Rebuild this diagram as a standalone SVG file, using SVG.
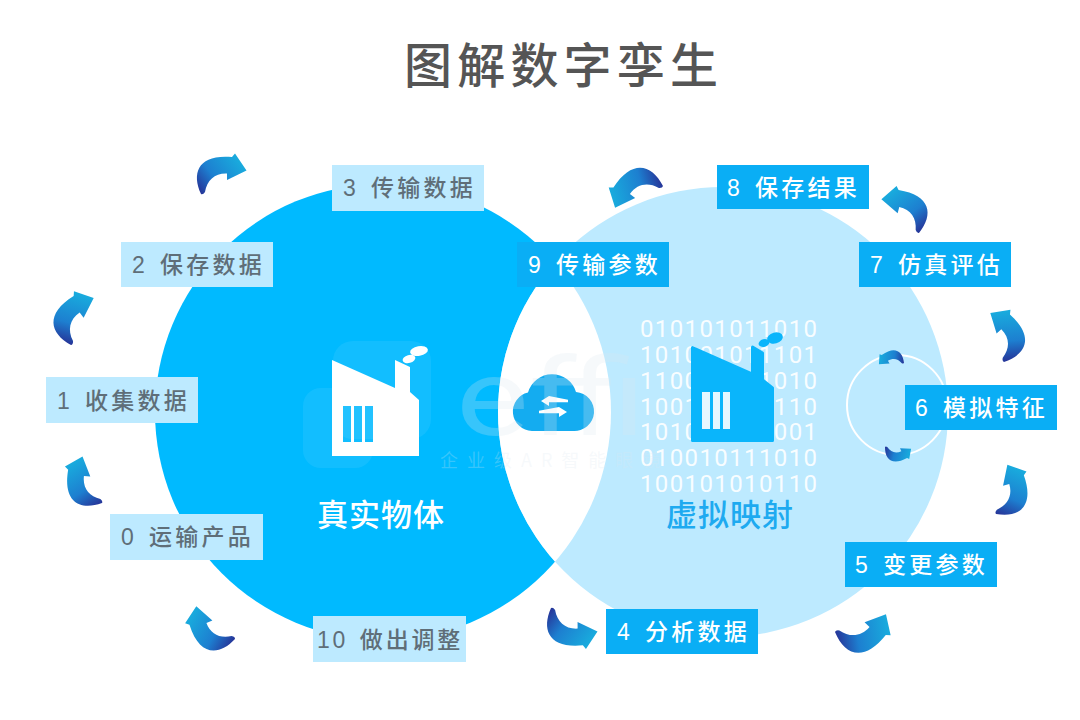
<svg xmlns="http://www.w3.org/2000/svg" width="1080" height="720" viewBox="0 0 1080 720">
<style>
.lt{fill:#bdeaff}.dk{fill:#0aaef5}
.lb{font-family:"Liberation Sans","Noto Sans CJK SC",sans-serif;font-size:23px;font-weight:500;letter-spacing:3.200px;word-spacing:2.500px}
.lt+.lb{fill:#5f6e78}.dk+.lb{fill:#fff}
.bin{font-family:Roboto,"Liberation Sans",sans-serif;font-weight:400;font-size:24px;fill:#fff;fill-opacity:.92}
.cap{font-family:"Noto Sans CJK SC",sans-serif;font-size:31px;font-weight:500;letter-spacing:1px}
.wm{fill:#dce8f0;fill-opacity:.25}
.wr{fill:#fff;fill-opacity:.07}
</style>
<defs>
<linearGradient id="ag" gradientUnits="userSpaceOnUse" x1="40" y1="-30" x2="1" y2="0">
<stop offset="0" stop-color="#19aadd"/><stop offset=".6" stop-color="#1d7fd0"/><stop offset="1" stop-color="#26379a"/>
</linearGradient>
<path id="arrow" fill="url(#ag)" d="M0 0C-10-22-2-40 31-37L34-40.500 45.500-23.500 26-14 26-20.500C14-21 6-14 4-2Q2 1 0 0Z"/>
<clipPath id="lc"><circle cx="383" cy="412" r="228"/></clipPath>
</defs>
<rect width="1080" height="720" fill="#fff"/>
<text x="404" y="83" font-family="'Noto Sans CJK SC',sans-serif" font-size="48" font-weight="500" letter-spacing="5.200" fill="#555">图解数字孪生</text>

<g id="circles">
<circle cx="383" cy="412" r="228" fill="#00baff"/>
<circle cx="723" cy="412" r="225" fill="#bdeaff"/>
<circle cx="723" cy="412" r="225" fill="#fff" clip-path="url(#lc)"/>
</g>

<g id="binary" class="bin">
<text x="640" y="337" textLength="177">010101011010</text>
<text x="640" y="363" textLength="177">101001011101</text>
<text x="640" y="389" textLength="177">110010101010</text>
<text x="640" y="415" textLength="177">100101010110</text>
<text x="640" y="440" textLength="177">101001010001</text>
<text x="640" y="466" textLength="177">010010111010</text>
<text x="640" y="492" textLength="177">100101010110</text>
</g>

<g id="real-object">
<path fill="#fff" d="M332 360L395 388V360L410 367V392L419 400V456H332Z"/>
<path fill="#00baff" d="M343 406h8v36h-8zM354 406h8v36h-8zM365 406h8v36h-8z"/>
<ellipse cx="419" cy="351" rx="9" ry="4.800" fill="#fff" transform="rotate(-10 419 351)"/>
<ellipse cx="409" cy="359" rx="6.500" ry="4" fill="#fff" transform="rotate(-15 409 359)"/>
<text class="cap" x="317" y="526" fill="#fff">真实物体</text>
</g>

<g id="virtual-map">
<path fill="#0ab5fb" stroke="#0ab5fb" stroke-width="3" stroke-linejoin="round" d="M692.500 347.500L752.500 374V347L762.500 353V380L772.500 388V440.500H692.500Z"/>
<path fill="#e6f7ff" d="M702 392h8v37h-8zM713 392h7v37h-7zM723 392h7v37h-7z"/>
<ellipse cx="775" cy="338" rx="8" ry="5.500" fill="#0ab5fb" transform="rotate(-15 775 338)"/>
<ellipse cx="764" cy="343" rx="5.500" ry="3.800" fill="#0ab5fb" transform="rotate(-15 764 343)"/>
<text class="cap" x="666" y="526" fill="#1eaaf0">虚拟映射</text>
</g>

<g id="cloud">
<path fill="#14acf0" d="M532 431A19.500 19.500 0 0 1 528 392.500A25 25 0 0 1 576 392A19.500 19.500 0 0 1 573 431Z"/>
<path fill="#fff" d="M568 399.800V402.200H549V406L541 401 549 396ZM539 410.800V413.200H559V417L567 412 559 407Z"/>
</g>

<g id="watermark">
<rect class="wr" x="333" y="341" width="98" height="98" rx="20"/>
<rect class="wr" x="303" y="388" width="70" height="80" rx="18"/>
<text class="wm" x="456" y="435" font-family="Roboto,sans-serif" font-size="108" textLength="190" lengthAdjust="spacingAndGlyphs">effi</text>
<text class="wm" x="440" y="467" font-family="'Noto Sans CJK SC',sans-serif" font-size="18" letter-spacing="9">企业级AR智能眼镜</text>
</g>

<g id="inner-cycle">
<circle cx="897" cy="405" r="50" fill="none" stroke="#fff" stroke-width="2"/>
<use href="#arrow" transform="matrix(-.423 .248 .248 .423 904 363)"/>
<use href="#arrow" transform="matrix(.468 -.205 -.205 -.468 885 447)"/>
</g>

<g id="connectors">
<use href="#arrow" transform="translate(201 194)"/>
<use href="#arrow" transform="matrix(.814 -.61 .61 .814 71 345)"/>
<use href="#arrow" transform="matrix(.078 -.98 .98 .078 102 503)"/>
<use href="#arrow" transform="matrix(-.379 -.913 .913 -.379 235 639)"/>
<use href="#arrow" transform="matrix(1.017 -.009 -.009 -1.017 551 608)"/>
<use href="#arrow" transform="matrix(.725 -.765 -.765 -.725 835 632)"/>
<use href="#arrow" transform="matrix(-.245 -.958 -.958 .245 996 514)"/>
<use href="#arrow" transform="matrix(-.677 -.728 -.728 .677 1004 362)"/>
<use href="#arrow" transform="matrix(-.954 -.247 -.247 .954 919 233)"/>
<use href="#arrow" transform="matrix(-.637 .806 .806 .637 663 186)"/>
</g>

<g id="step0"><rect class="lt" x="110" y="514" width="153" height="46"/><text class="lb" x="121" y="545">0 运输产品</text></g>
<g id="step1"><rect class="lt" x="46" y="377" width="152" height="46"/><text class="lb" x="57" y="409">1 收集数据</text></g>
<g id="step2"><rect class="lt" x="121" y="242" width="152" height="45"/><text class="lb" x="132" y="273">2 保存数据</text></g>
<g id="step3"><rect class="lt" x="332" y="165" width="152" height="46"/><text class="lb" x="343" y="196">3 传输数据</text></g>
<g id="step4"><rect class="dk" x="606" y="609" width="152" height="45"/><text class="lb" x="617" y="640">4 分析数据</text></g>
<g id="step5"><rect class="dk" x="845" y="542" width="152" height="45"/><text class="lb" x="855" y="573">5 变更参数</text></g>
<g id="step6"><rect class="dk" x="905" y="385" width="152" height="45"/><text class="lb" x="915" y="416">6 模拟特征</text></g>
<g id="step7"><rect class="dk" x="859" y="242" width="152" height="45"/><text class="lb" x="870" y="273">7 仿真评估</text></g>
<g id="step8"><rect class="dk" x="717" y="165" width="152" height="44"/><text class="lb" x="727" y="196">8 保存结果</text></g>
<g id="step9"><rect class="dk" x="517" y="242" width="152" height="45"/><text class="lb" x="528" y="273">9 传输参数</text></g>
<g id="step10"><rect class="lt" x="313" y="616" width="153" height="46"/><text class="lb" x="317" y="648" style="letter-spacing:2.800px">10 做出调整</text></g>
</svg>
